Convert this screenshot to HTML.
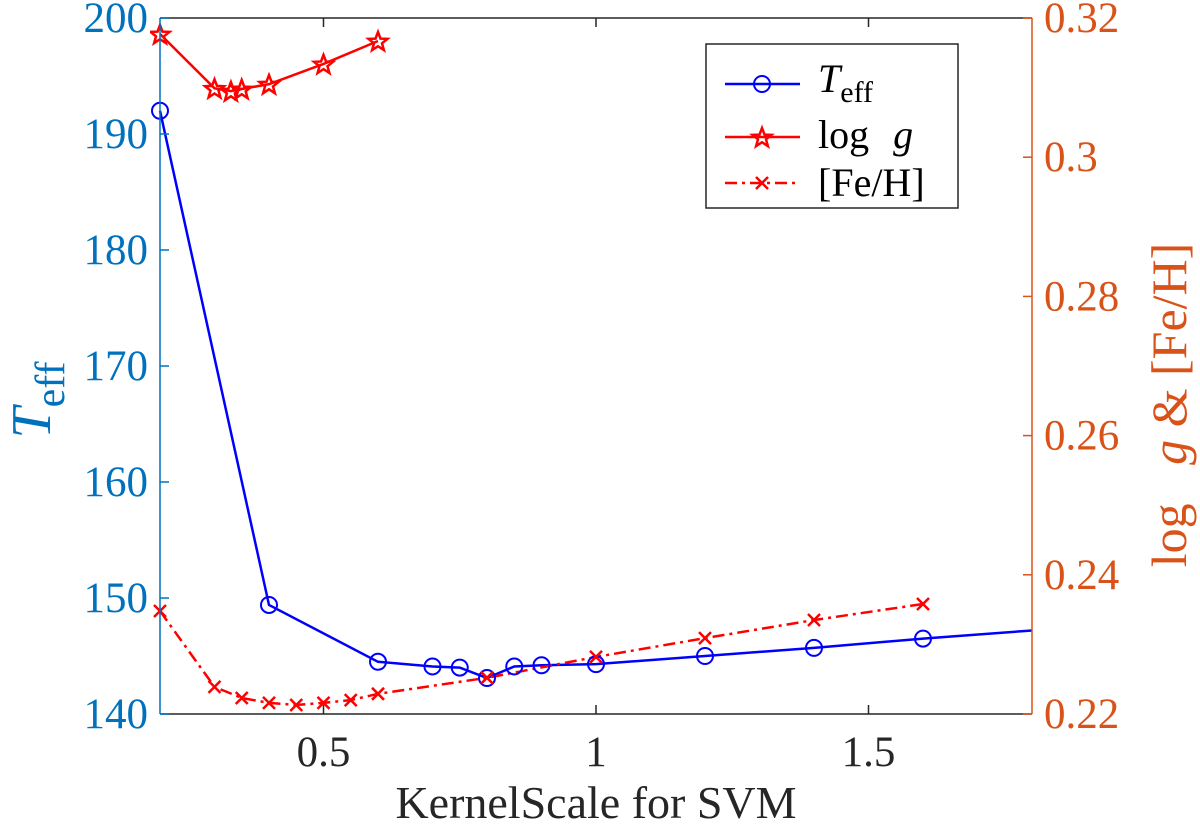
<!DOCTYPE html>
<html><head><meta charset="utf-8"><style>
body{margin:0;background:#fff}
svg{font-family:"Liberation Serif",serif}
</style></head><body>
<svg id="chart" width="1200" height="830" viewBox="0 0 1200 830" xmlns="http://www.w3.org/2000/svg">
<defs><clipPath id="clip"><rect x="150" y="8" width="892" height="716"/></clipPath></defs>
<g id="plot" clip-path="url(#clip)"></g>
<g id="axes"></g>
<g>
<rect x="706" y="44" width="252" height="164" fill="#fff" stroke="#262626" stroke-width="1.5"/>
<line x1="725" y1="84" x2="800" y2="84" stroke="#0000ff" stroke-width="2.5"/>
<circle cx="762" cy="84" r="8" fill="none" stroke="#0000ff" stroke-width="2"/>
<text x="818" y="92" font-size="40" font-style="italic">T<tspan font-style="normal" font-size="30" dy="10">eff</tspan></text>
<line x1="725" y1="137" x2="800" y2="137" stroke="#ff0000" stroke-width="2.5"/>
<polygon id="legstar" fill="none" stroke="#ff0000" stroke-width="2.5"/>
<text x="818" y="148" font-size="40">log <tspan font-style="italic" dx="14">g</tspan></text>
<line x1="725" y1="183" x2="800" y2="183" stroke="#ff0000" stroke-width="2.5" stroke-dasharray="12,5,3,5"/>
<path d="M756 177L768 189M768 177L756 189" stroke="#ff0000" stroke-width="2.5"/>
<text x="818" y="196" font-size="40">[Fe/H]</text>
</g>
<text x="596" y="818" font-size="46" text-anchor="middle" fill="#262626">KernelScale for SVM</text>
<text transform="translate(50,400) rotate(-90)" font-size="56" font-style="italic" fill="#0072BD" text-anchor="middle">T<tspan font-style="normal" font-size="42" dy="14">eff</tspan></text>
<text transform="translate(1186,405) rotate(-90)" font-size="50" fill="#D95319" text-anchor="middle">log <tspan font-style="italic" dx="26">g</tspan> &amp; [Fe/H]</text>
</svg>
<script>
const teffX=[0.2,0.4,0.6,0.7,0.75,0.8,0.85,0.9,1,1.2,1.4,1.6,1.8];
const teffY=[192,149.4,144.5,144.1,144,143.1,144.1,144.2,144.3,145,145.7,146.5,147.2];
const teffMarked=[1,1,1,1,1,1,1,1,1,1,1,1,0];
const loggX=[0.2,0.3,0.33,0.35,0.4,0.5,0.6];
const loggY=[0.3177,0.3099,0.3095,0.3098,0.3105,0.3134,0.3167];
const fehX=[0.2,0.3,0.35,0.4,0.45,0.5,0.55,0.6,0.8,1,1.2,1.4,1.6];
const fehY=[0.2348,0.2239,0.2223,0.2216,0.2213,0.2216,0.222,0.2229,0.2252,0.2282,0.2309,0.2335,0.2358];
const xTicks=[0.5,1,1.5];
const xTickLabels=["0.5","1","1.5"];
const lTicks=[140,150,160,170,180,190,200];
const rTicks=[0.22,0.24,0.26,0.28,0.3,0.32];
const rTickLabels=["0.22","0.24","0.26","0.28","0.3","0.32"];
const X0=160,X1=1032,Y0=18,Y1=714;
const sx=v=>X0+(v-0.2)/1.6*(X1-X0);
const sl=v=>Y1-(v-140)/60*(Y1-Y0);
const sr=v=>Y1-(v-0.22)/0.1*(Y1-Y0);
const NS="http://www.w3.org/2000/svg";
function mk(p,t,a){const e=document.createElementNS(NS,t);for(const k in a)e.setAttribute(k,a[k]);p.appendChild(e);return e;}
function starPts(cx,cy,R){const r=R*0.42,p=[];for(let k=0;k<10;k++){const a=-Math.PI/2+k*Math.PI/5,rr=k%2?r:R;p.push((cx+rr*Math.cos(a)).toFixed(1)+','+(cy+rr*Math.sin(a)).toFixed(1));}return p.join(' ');}
document.getElementById('legstar').setAttribute('points',starPts(762,138,10));
const plot=document.getElementById('plot'),axes=document.getElementById('axes');
function poly(xs,ys,fy,col,dash,name){const l=mk(plot,'polyline',{points:xs.map((x,i)=>sx(x)+','+fy(ys[i])).join(' '),fill:'none',stroke:col,'stroke-width':2.5,'stroke-dasharray':dash||'none'});

}
poly(teffX,teffY,sl,'#0000ff',null,'teff-line');
poly(loggX,loggY,sr,'#ff0000',null,'logg-line');
poly(fehX,fehY,sr,'#ff0000','12,5,3,5','feh-line');
teffX.forEach((x,i)=>{if(!teffMarked[i])return;const c=mk(plot,'circle',{cx:sx(x),cy:sl(teffY[i]),r:8,fill:'none',stroke:'#0000ff','stroke-width':2});

});
loggX.forEach((x,i)=>{const s=mk(plot,'polygon',{points:starPts(sx(x),sr(loggY[i])+1,10),fill:'none',stroke:'#ff0000','stroke-width':2.5});

});
fehX.forEach((x,i)=>{const cx=sx(x),cy=sr(fehY[i]);const t=mk(plot,'path',{d:`M${cx-6} ${cy-6}L${cx+6} ${cy+6}M${cx+6} ${cy-6}L${cx-6} ${cy+6}`,stroke:'#ff0000','stroke-width':2.5});

});
mk(axes,'line',{x1:X0,y1:Y0,x2:X1,y2:Y0,stroke:'#262626','stroke-width':1.5});
mk(axes,'line',{x1:X0,y1:Y1,x2:X1,y2:Y1,stroke:'#262626','stroke-width':1.5});
mk(axes,'line',{x1:X0,y1:Y0,x2:X0,y2:Y1,stroke:'#0072BD','stroke-width':1.5});
mk(axes,'line',{x1:X1,y1:Y0,x2:X1,y2:Y1,stroke:'#D95319','stroke-width':1.5});
xTicks.forEach((v,i)=>{const x=sx(v);mk(axes,'line',{x1:x,y1:Y1,x2:x,y2:Y1-9,stroke:'#262626','stroke-width':1.5});mk(axes,'line',{x1:x,y1:Y0,x2:x,y2:Y0+9,stroke:'#262626','stroke-width':1.5});
const t=mk(axes,'text',{x:x,y:Y1+52,'font-size':43,'text-anchor':'middle',fill:'#262626'});t.textContent=xTickLabels[i];

});
lTicks.forEach(v=>{const y=sl(v);mk(axes,'line',{x1:X0,y1:y,x2:X0+9,y2:y,stroke:'#0072BD','stroke-width':1.5});
const t=mk(axes,'text',{x:X0-12,y:y+14,'font-size':43,'text-anchor':'end',fill:'#0072BD'});t.textContent=v;

});
rTicks.forEach((v,i)=>{const y=sr(v);mk(axes,'line',{x1:X1,y1:y,x2:X1-9,y2:y,stroke:'#D95319','stroke-width':1.5});
const t=mk(axes,'text',{x:X1+12,y:y+14,'font-size':43,'text-anchor':'start',fill:'#D95319'});t.textContent=rTickLabels[i];

});
</script>
</body></html>
